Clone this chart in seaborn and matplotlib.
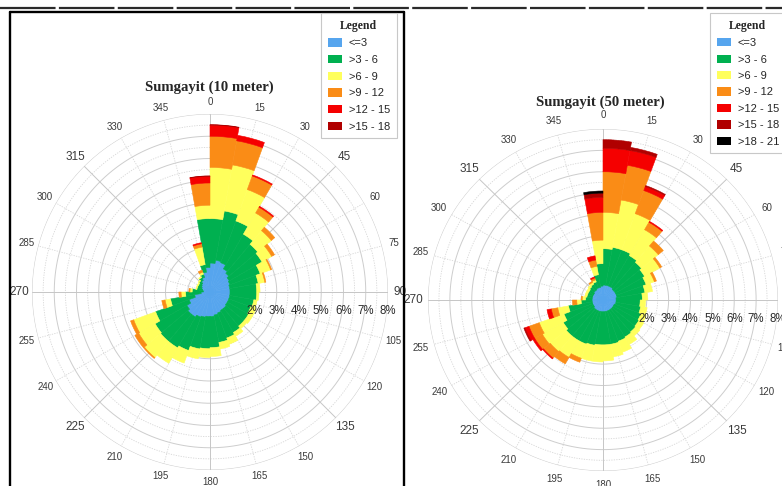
import numpy as np
import matplotlib
matplotlib.use("Agg")
import matplotlib.pyplot as plt
import seaborn as sns
from matplotlib.patches import Patch
from matplotlib.lines import Line2D
from matplotlib.font_manager import FontProperties

# ---------------- data ----------------
directions = list(range(0, 360, 10))          # sector start angles (deg)
classes_10 = ["<=3", ">3 - 6", ">6 - 9", ">9 - 12", ">12 - 15", ">15 - 18"]
classes_50 = ["<=3", ">3 - 6", ">6 - 9", ">9 - 12", ">12 - 15", ">15 - 18", ">18 - 21"]
radial_ticks = [2, 3, 4, 5, 6, 7, 8]
angle_ticks = list(range(0, 360, 15))

# Sumgayit 10 m  (frequency %, per speed class, per 10-degree sector)
s10_le3 = [1.3, 1.45, 1.4, 1.2, 1.1, 1.0, 0.95, 0.9, 0.9, 0.9,
           0.9, 0.9, 0.9, 0.95, 0.95, 1.0, 1.05, 1.1, 1.1, 1.15,
           1.2, 1.3, 1.3, 1.2, 1.0, 0.7, 0.4, 0.3, 0.35, 0.4,
           0.45, 0.5, 0.6, 0.7, 0.9, 1.1]
s10_3_6 = [2.0, 2.25, 2.0, 1.8, 1.7, 1.7, 1.45, 1.3, 1.2, 1.2,
           1.1, 1.05, 1.1, 1.05, 1.15, 1.2, 1.25, 1.4, 1.45, 1.45,
           1.6, 1.6, 1.6, 1.65, 1.6, 1.1, 0.7, 0.5, 0.25, 0.2,
           0.15, 0.15, 0.15, 0.15, 0.35, 2.2]
s10_6_9 = [2.3, 2.1, 1.5, 1.1, 0.8, 0.5, 0.5, 0.3, 0.15, 0.1,
           0.15, 0.25, 0.2, 0.15, 0.2, 0.3, 0.3, 0.4, 0.4, 0.45,
           0.6, 0.8, 0.95, 0.85, 1.05, 0.25, 0.2, 0.1, 0.05, 0.05,
           0.05, 0.05, 0.05, 0.1, 0.8, 0.6]
s10_9_12 = [1.4, 1.1, 0.65, 0.3, 0.2, 0.15, 0.05, 0.05, 0.0, 0.0,
            0.0, 0.0, 0.0, 0.0, 0.0, 0.0, 0.0, 0.0, 0.0, 0.0,
            0.0, 0.0, 0.05, 0.2, 0.15, 0.15, 0.1, 0.05, 0.0, 0.0,
            0.0, 0.0, 0.0, 0.1, 0.15, 1.0]
s10_12_15 = [0.5, 0.25, 0.05, 0.05, 0.0, 0.0, 0.0, 0.0, 0.0, 0.0,
             0.0, 0.0, 0.0, 0.0, 0.0, 0.0, 0.0, 0.0, 0.0, 0.0,
             0.0, 0.0, 0.0, 0.0, 0.0, 0.0, 0.0, 0.0, 0.0, 0.0,
             0.0, 0.0, 0.0, 0.0, 0.05, 0.3]
s10_15_18 = [0.02, 0.0, 0.0, 0.0, 0.0, 0.0, 0.0, 0.0, 0.0, 0.0,
             0.0, 0.0, 0.0, 0.0, 0.0, 0.0, 0.0, 0.0, 0.0, 0.0,
             0.0, 0.0, 0.0, 0.0, 0.0, 0.0, 0.0, 0.0, 0.0, 0.0,
             0.0, 0.0, 0.0, 0.0, 0.0, 0.02]

# Sumgayit 50 m
s50_le3 = [0.7, 0.7, 0.7, 0.7, 0.65, 0.65, 0.65, 0.65, 0.6, 0.6,
           0.6, 0.55, 0.55, 0.55, 0.55, 0.55, 0.55, 0.55, 0.55, 0.55,
           0.55, 0.55, 0.55, 0.5, 0.5, 0.5, 0.5, 0.5, 0.5, 0.5,
           0.5, 0.55, 0.55, 0.6, 0.6, 0.65]
s50_3_6 = [1.7, 1.8, 1.8, 1.7, 1.65, 1.55, 1.45, 1.3, 1.2, 1.1,
           1.15, 1.3, 1.35, 1.4, 1.45, 1.5, 1.55, 1.55, 1.55, 1.6,
           1.65, 1.65, 1.65, 1.6, 1.4, 1.1, 0.5, 0.3, 0.25, 0.25,
           0.25, 0.25, 0.3, 0.3, 0.6, 1.05]
s50_6_9 = [1.7, 2.25, 1.8, 1.4, 1.0, 0.8, 0.4, 0.35, 0.25, 0.25,
           0.3, 0.25, 0.25, 0.25, 0.4, 0.55, 0.6, 0.75, 0.8, 0.75,
           0.7, 0.9, 0.95, 1.1, 1.2, 0.5, 0.2, 0.15, 0.1, 0.1,
           0.1, 0.1, 0.1, 0.1, 0.4, 1.1]
s50_9_12 = [1.9, 1.65, 1.15, 0.4, 0.3, 0.1, 0.1, 0.0, 0.0, 0.0,
            0.0, 0.0, 0.0, 0.0, 0.0, 0.0, 0.0, 0.0, 0.0, 0.0,
            0.2, 0.35, 0.4, 0.4, 0.5, 0.3, 0.2, 0.05, 0.0, 0.0,
            0.0, 0.0, 0.05, 0.1, 0.3, 1.3]
s50_12_15 = [1.1, 0.7, 0.2, 0.05, 0.0, 0.0, 0.0, 0.0, 0.0, 0.0,
             0.0, 0.0, 0.0, 0.0, 0.0, 0.0, 0.0, 0.0, 0.0, 0.0,
             0.0, 0.0, 0.05, 0.1, 0.2, 0.2, 0.0, 0.0, 0.0, 0.0,
             0.0, 0.0, 0.0, 0.05, 0.2, 0.7]
s50_15_18 = [0.4, 0.15, 0.05, 0.0, 0.0, 0.0, 0.0, 0.0, 0.0, 0.0,
             0.0, 0.0, 0.0, 0.0, 0.0, 0.0, 0.0, 0.0, 0.0, 0.0,
             0.0, 0.0, 0.0, 0.0, 0.05, 0.0, 0.0, 0.0, 0.0, 0.0,
             0.0, 0.0, 0.0, 0.0, 0.0, 0.2]
s50_18_21 = [0.0, 0.0, 0.0, 0.0, 0.0, 0.0, 0.0, 0.0, 0.0, 0.0,
             0.0, 0.0, 0.0, 0.0, 0.0, 0.0, 0.0, 0.0, 0.0, 0.0,
             0.0, 0.0, 0.0, 0.0, 0.0, 0.0, 0.0, 0.0, 0.0, 0.0,
             0.0, 0.0, 0.0, 0.0, 0.0, 0.1]

series_10 = [s10_le3, s10_3_6, s10_6_9, s10_9_12, s10_12_15, s10_15_18]
series_50 = [s50_le3, s50_3_6, s50_6_9, s50_9_12, s50_12_15, s50_15_18, s50_18_21]

# ---------------- style ----------------
sns.set_theme(style="white")
plt.rcParams["font.family"] = ["Liberation Sans", "DejaVu Sans"]
palette = sns.color_palette(["#56a5ee", "#00b050", "#ffff5c", "#fa8c16",
                             "#f50000", "#b00000", "#000000"])

W, H = 782, 486
fig = plt.figure(figsize=(W / 100, H / 100), dpi=100)
fig.patch.set_facecolor("white")


def fx(px):
    return px / W


def fy(py):
    return 1 - py / H


def draw_rose(rect, series, label_r, aspect_auto=False):
    ax = fig.add_axes(rect, projection="polar")
    if aspect_auto:
        ax.set_aspect("auto")
    ax.set_theta_zero_location("N")
    ax.set_theta_direction(-1)
    ax.grid(False)
    ax.set_xticks([])
    ax.set_yticks([])
    ax.spines["polar"].set_visible(False)
    ax.patch.set_alpha(0)
    ax.set_ylim(0, 8)

    full = np.linspace(0, 2 * np.pi, 400)
    for r in np.arange(1, 8.01, 1):
        ax.plot(full, np.full_like(full, r), color="#cdcdcd", lw=0.7, zorder=1)
    for r in np.arange(0.5, 8.0, 1):
        ax.plot(full, np.full_like(full, r), color="#d6d6d6", lw=0.6,
                ls=(0, (1.5, 1.5)), zorder=1)
    for a in angle_ticks:
        t = np.radians(a)
        if a % 45 == 0:
            ax.plot([t, t], [0, 8], color="#c6c6c6", lw=0.7, zorder=1)
        else:
            ax.plot([t, t], [0, 8], color="#d6d6d6", lw=0.6,
                    ls=(0, (1.5, 1.5)), zorder=1)

    theta = np.radians(directions)
    width = np.radians(10)
    bottom = np.zeros(len(directions))
    for vals, col in zip(series, palette):
        vals = np.asarray(vals, dtype=float)
        m = vals > 0
        ax.bar(theta[m], vals[m], width=width, bottom=bottom[m], align="edge",
               color=col, edgecolor=col, linewidth=0.4, zorder=3)
        bottom = bottom + vals

    for a in angle_ticks:
        big = (a % 45 == 0) and a not in (0, 180)
        ax.text(np.radians(a), label_r, str(a), ha="center", va="center",
                fontsize=8.5 if big else 7, color="#3a3a3a", clip_on=False)
    for r in radial_ticks:
        ax.annotate(f"{r}%", xy=(np.pi / 2, r), xytext=(0, -14),
                    textcoords="offset points", ha="center", va="center",
                    fontsize=8.3, color="#2a2a2a", zorder=5,
                    annotation_clip=False)
    return ax


# left rose: centre (210, 292), radius 178 px
draw_rose([fx(32), fy(470), fx(356), 356 / H], series_10, 8.55)
# right rose: centre (603, 300)
draw_rose([fx(428), fy(471), fx(350), 342 / H], series_50, 8.65, aspect_auto=True)

title_font = dict(family=["Liberation Serif", "DejaVu Serif"], weight="bold", size=10.6)
fig.text(fx(209), fy(87), "Sumgayit (10 meter)", ha="center", va="center", **title_font)
fig.text(fx(600), fy(102), "Sumgayit (50 meter)", ha="center", va="center", **title_font)


def make_legend(labels, x, y, spacing):
    handles = [Patch(facecolor=palette[i], edgecolor="none") for i in range(len(labels))]
    leg = fig.legend(handles, labels, loc="upper left",
                     bbox_to_anchor=(fx(x), fy(y)), title="Legend",
                     title_fontproperties=FontProperties(family="Liberation Serif",
                                                         weight="bold", size=8.5),
                     prop={"family": "Liberation Sans", "size": 8},
                     frameon=True, fancybox=False, edgecolor="#c8c8c8",
                     framealpha=1, borderpad=0.6, labelspacing=spacing,
                     handlelength=1.3, handleheight=0.75, handletextpad=0.6,
                     borderaxespad=0)
    leg.get_frame().set_linewidth(0.8)
    return leg


make_legend(classes_10, 321, 13, 0.6)
make_legend(classes_50, 710, 13, 0.58)

# document frame lines
fig.add_artist(Line2D([0, 1], [fy(8.5), fy(8.5)], transform=fig.transFigure,
                      color="#2a2a2a", lw=1.6, dashes=(25, 1.5)))
for xs, ys in [([fx(10), fx(10)], [0, fy(12.5)]),
               ([fx(10), fx(404)], [fy(12.5), fy(12.5)]),
               ([fx(404), fx(404)], [0, fy(12.5)])]:
    fig.add_artist(Line2D(xs, ys, transform=fig.transFigure, color="black", lw=1.7))

fig.savefig("out.png", dpi=100, facecolor="white")
